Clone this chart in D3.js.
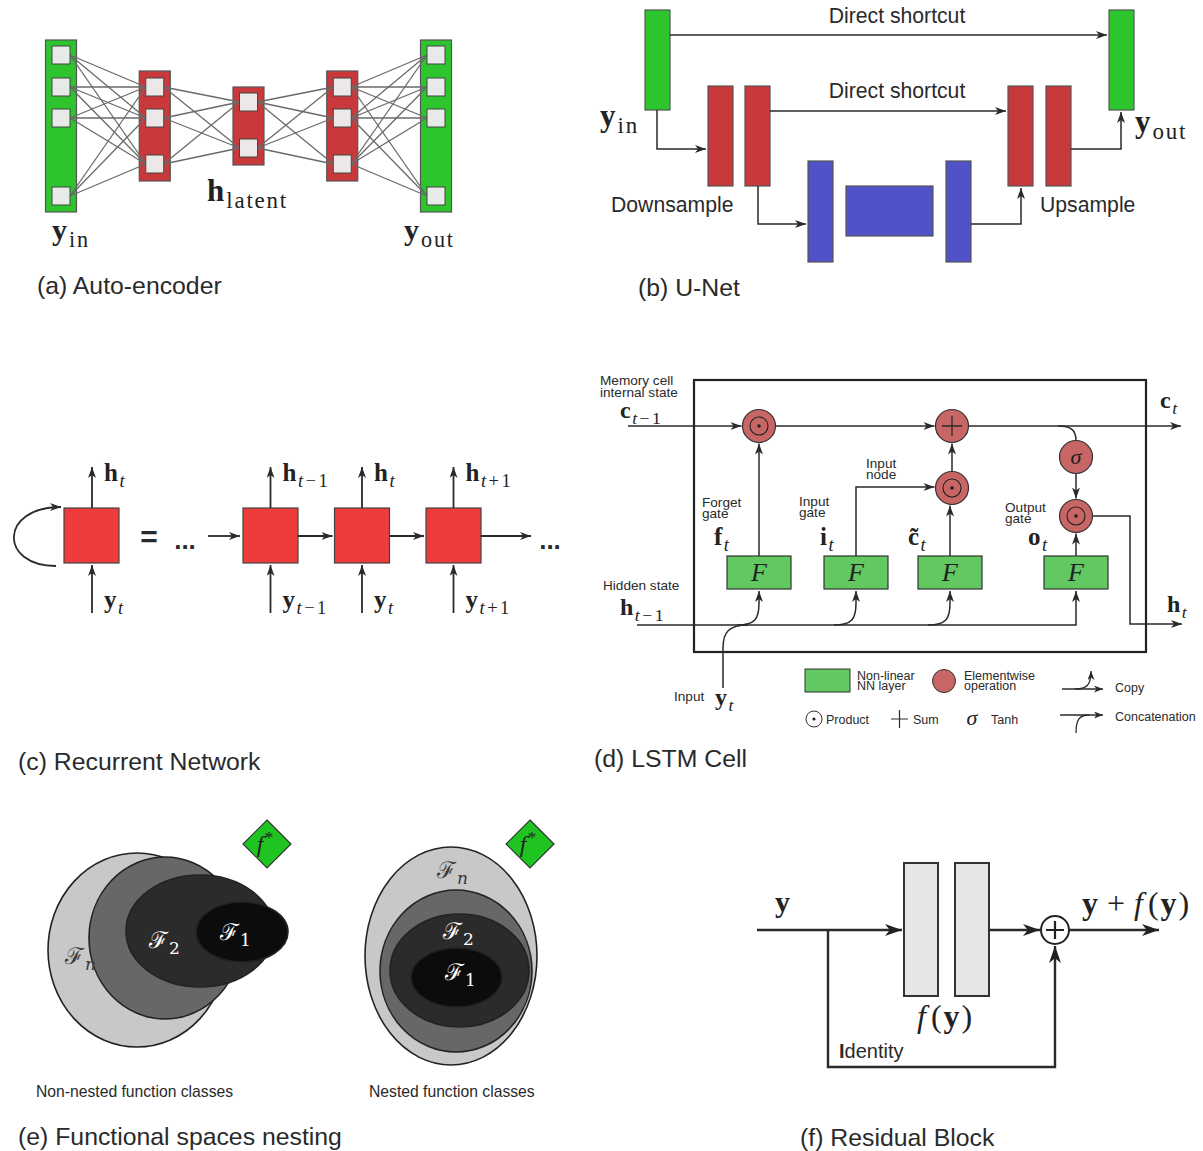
<!DOCTYPE html>
<html>
<head>
<meta charset="utf-8">
<script src="https://cdn.jsdelivr.net/npm/d3@7"></script>
<style>
  html, body { margin: 0; background: #ffffff; }
  svg { display: block; }
</style>
</head>
<body>
<svg id="fig" width="1203" height="1151"></svg>
<script>
// ---------------------------------------------------------------
// Content of the six panels
// ---------------------------------------------------------------
const panelCaptions = [
  "(a) Auto-encoder", "(b) U-Net", "(c) Recurrent Network",
  "(d) LSTM Cell", "(e) Functional spaces nesting", "(f) Residual Block"
];

// (a) auto-encoder: units per layer and the role of each layer
const aeLayerSizes = [4, 3, 2, 3, 4];
const aeLayerRoles = ["input", "encoder", "latent", "decoder", "output"];

// (b) U-Net: blocks from input to output
const unetBlocks = ["input", "down", "down", "bottleneck", "bottleneck", "bottleneck", "up", "up", "output"];
const unetShortcutLabel = "Direct shortcut";
const unetSideLabels = ["Downsample", "Upsample"];

// (c) recurrent network: time index of each unrolled step
const rnnSteps = [["t", "−", "1"], ["t"], ["t", "+", "1"]];

// (d) LSTM: gates, their descriptions and output symbols
const lstmGateNames   = [["Forget", "gate"], ["Input", "gate"], null, ["Output", "gate"]];
const lstmGateSymbols = ["f", "i", "c\u0303", "o"];
const lstmLegendTop   = [["Non-linear", "NN layer"], ["Elementwise", "operation"], ["Copy"]];
const lstmLegendBottom = ["Product", "Sum", "Tanh", "Concatenation"];

// (e) function classes, outermost first
const classLabels = ["n", "", "2", "1"];
const classShades = ["#c8c8c8", "#676767", "#2b2b2b", "#0c0c0c"];
const classSubtitles = ["Non-nested function classes", "Nested function classes"];

// (f) residual block
const residualLayers = ["layer1", "layer2"];

// ---------------------------------------------------------------
// Drawing helpers
// ---------------------------------------------------------------
const SANS  = "'Liberation Sans', Arial, Helvetica, sans-serif";
const SERIF = "'Liberation Serif', 'DejaVu Serif', 'Times New Roman', serif";
const INK = "#2a2a2a";
const CAPTION = 24.8;

const svg = d3.select("#fig");
const defs = svg.append("defs");

function arrowMarker(id, len, wid, color) {
  defs.append("marker")
    .attr("id", id)
    .attr("viewBox", `0 0 ${len} ${wid}`)
    .attr("refX", len).attr("refY", wid / 2)
    .attr("markerWidth", len).attr("markerHeight", wid)
    .attr("markerUnits", "userSpaceOnUse")
    .attr("orient", "auto")
    .append("path")
    .attr("d", `M0,0 L${len},${wid / 2} L0,${wid} L${len * 0.28},${wid / 2} Z`)
    .attr("fill", color);
}
arrowMarker("arr", 11, 8, "#2a2a2a");
arrowMarker("arrS", 9, 7, "#2a2a2a");
arrowMarker("arrB", 17, 12, "#222");

function label(g, x, y, str, size, opt = {}) {
  return g.append("text")
    .attr("x", x).attr("y", y)
    .attr("font-family", opt.family || SANS)
    .attr("font-size", size)
    .attr("fill", opt.fill || INK)
    .attr("text-anchor", opt.anchor || "start")
    .text(str);
}

// Math-style text: segments {t, b(bold), i(italic), sub, sup, dx}
function math(g, x, y, size, segs, opt = {}) {
  const t = g.append("text")
    .attr("x", x).attr("y", y)
    .attr("font-family", opt.family || SERIF)
    .attr("font-size", size)
    .attr("fill", opt.fill || "#222")
    .attr("text-anchor", opt.anchor || "start");
  let cur = 0;
  segs.forEach(s => {
    const small = s.sub || s.sup;
    const shift = s.sub ? size * 0.24 : s.sup ? -size * 0.38 : 0;
    const ts = t.append("tspan")
      .attr("font-size", small ? size * 0.74 : size)
      .attr("font-weight", s.b ? "bold" : "normal")
      .attr("font-style", s.i ? "italic" : "normal")
      .text(s.t);
    if (small && s.ls !== undefined) ts.attr("letter-spacing", s.ls);
    if (s.dx) ts.attr("dx", s.dx);
    if (shift !== cur) { ts.attr("dy", shift - cur); cur = shift; }
  });
  return t;
}
// subscript with the time index: t italic, operators spaced out
function timeSub(parts) {
  return parts.map((p, k) => ({
    t: p, sub: true, i: p === "t",
    dx: k === 0 ? 1.5 : (p === "−" || p === "+" || parts[k - 1] === "−" || parts[k - 1] === "+") ? 2.5 : 0
  }));
}
// upright word subscript (in, out, latent)
const wordSub = w => ({ t: w, sub: true, ls: 1.8, dx: 2 });

function line(g, d, opt = {}) {
  const p = g.append("path")
    .attr("d", d)
    .attr("fill", "none")
    .attr("stroke", opt.stroke || "#2a2a2a")
    .attr("stroke-width", opt.width || 1.5);
  if (opt.arrow) p.attr("marker-end", `url(#${opt.arrow})`);
  return p;
}

// ---------------------------------------------------------------
// (a) Auto-encoder
// ---------------------------------------------------------------
(function drawAutoEncoder() {
  const g = svg.append("g");
  const x = d3.scalePoint().domain(d3.range(aeLayerSizes.length)).range([61, 436]);
  const rows = { 4: [55, 87, 118, 196], 3: [87, 118, 164], 2: [102, 148] };
  const span = { 4: [40, 212], 3: [71, 181], 2: [87, 165] };
  const half = 15.5, node = 18;

  aeLayerSizes.forEach((n, i) => {
    const green = aeLayerRoles[i] === "input" || aeLayerRoles[i] === "output";
    g.append("rect")
      .attr("x", x(i) - half).attr("y", span[n][0])
      .attr("width", half * 2).attr("height", span[n][1] - span[n][0])
      .attr("fill", green ? "#2dc42d" : "#c9393b")
      .attr("stroke", "#555").attr("stroke-width", 1.2);
  });

  // full connections between neighbouring layers
  for (let i = 0; i < aeLayerSizes.length - 1; i++) {
    rows[aeLayerSizes[i]].forEach(y0 => {
      rows[aeLayerSizes[i + 1]].forEach(y1 => {
        g.append("line")
          .attr("x1", x(i) + node / 2).attr("y1", y0)
          .attr("x2", x(i + 1) - node / 2).attr("y2", y1)
          .attr("stroke", "#6a6a6a").attr("stroke-width", 1.3);
      });
    });
  }

  aeLayerSizes.forEach((n, i) => {
    const green = aeLayerRoles[i] === "input" || aeLayerRoles[i] === "output";
    rows[n].forEach(y => {
      g.append("rect")
        .attr("x", x(i) - node / 2).attr("y", y - node / 2)
        .attr("width", node).attr("height", node)
        .attr("fill", green ? "#e7ebe7" : "#ede7e7")
        .attr("stroke", "#444").attr("stroke-width", 1);
    });
  });

  math(g, 52, 240, 30, [{ t: "y", b: true }, wordSub("in")]);
  math(g, 207, 201, 31, [{ t: "h", b: true }, wordSub("latent")]);
  math(g, 404, 240, 30, [{ t: "y", b: true }, wordSub("out")]);
  label(g, 37, 294, panelCaptions[0], CAPTION);
})();

// ---------------------------------------------------------------
// (b) U-Net
// ---------------------------------------------------------------
(function drawUNet() {
  const g = svg.append("g");
  const colour = { input: "#2dc42d", output: "#2dc42d", down: "#c9393b", up: "#c9393b", bottleneck: "#5151c8" };
  const boxes = [
    [645, 10, 25, 100], [708, 86, 25, 100], [745, 86, 25, 100],
    [808, 161, 25, 101], [846, 186, 87, 50], [946, 161, 25, 101],
    [1008, 86, 25, 100], [1046, 86, 25, 100], [1109, 10, 25, 100]
  ];
  unetBlocks.forEach((kind, i) => {
    const [bx, by, bw, bh] = boxes[i];
    g.append("rect").attr("x", bx).attr("y", by).attr("width", bw).attr("height", bh)
      .attr("fill", colour[kind]).attr("stroke", "#555").attr("stroke-width", 1.2);
  });

  line(g, "M670,35 H1107", { arrow: "arr" });
  line(g, "M770,111 H1006", { arrow: "arr" });
  line(g, "M657,110 V149 H706", { arrow: "arr" });
  line(g, "M758,186 V224 H806", { arrow: "arr" });
  line(g, "M971,224 H1021 V188", { arrow: "arr" });
  line(g, "M1071,149 H1121 V112", { arrow: "arr" });

  label(g, 897, 23, unetShortcutLabel, 21.2, { anchor: "middle" });
  label(g, 897, 98, unetShortcutLabel, 21.2, { anchor: "middle" });
  label(g, 611, 212, unetSideLabels[0], 21.2);
  label(g, 1040, 212, unetSideLabels[1], 21.2);

  math(g, 600, 126, 31, [{ t: "y", b: true }, wordSub("in")]);
  math(g, 1135, 132, 31, [{ t: "y", b: true }, wordSub("out")]);
  label(g, 638, 296, panelCaptions[1], CAPTION);
})();

// ---------------------------------------------------------------
// (c) Recurrent network
// ---------------------------------------------------------------
(function drawRNN() {
  const g = svg.append("g");
  const cellFill = "#ee3b3b", side = 55, top = 508;
  const aw = { width: 1.8, arrow: "arr" };

  // folded cell with its self loop
  g.append("rect").attr("x", 64).attr("y", top).attr("width", side).attr("height", side)
    .attr("fill", cellFill).attr("stroke", "#444").attr("stroke-width", 1.2);
  line(g, "M56,566 C-1,566 -1,507 61,507", aw);
  line(g, "M92,508 V467", aw);
  line(g, "M92,613 V565", aw);
  math(g, 104, 481, 25, [{ t: "h", b: true }, ...timeSub(["t"])]);
  math(g, 104, 608, 25, [{ t: "y", b: true }, ...timeSub(["t"])]);

  g.append("text").attr("x", 149).attr("y", 547).attr("font-family", SANS)
    .attr("font-size", 30).attr("font-weight", "bold").attr("text-anchor", "middle").attr("fill", INK).text("=");
  label(g, 185, 549, "...", 26, { anchor: "middle" }).attr("font-weight", "bold");
  label(g, 550, 549, "...", 26, { anchor: "middle" }).attr("font-weight", "bold");

  // unrolled cells
  const x = d3.scalePoint().domain(d3.range(rnnSteps.length)).range([270.5, 453.5]);
  line(g, "M208,536 H240", aw);
  rnnSteps.forEach((s, i) => {
    const cx = x(i);
    g.append("rect").attr("x", cx - side / 2).attr("y", top).attr("width", side).attr("height", side)
      .attr("fill", cellFill).attr("stroke", "#444").attr("stroke-width", 1.2);
    line(g, `M${cx},${top} V467`, aw);
    line(g, `M${cx},613 V${top + side + 2}`, aw);
    const next = i < rnnSteps.length - 1 ? x(i + 1) - side / 2 - 2 : 531;
    line(g, `M${cx + side / 2},536 H${next}`, aw);
    math(g, cx + 12, 481, 25, [{ t: "h", b: true }, ...timeSub(s)]);
    math(g, cx + 12, 608, 25, [{ t: "y", b: true }, ...timeSub(s)]);
  });

  label(g, 18, 770, panelCaptions[2], CAPTION);
})();

// ---------------------------------------------------------------
// (d) LSTM cell
// ---------------------------------------------------------------
(function drawLSTM() {
  const g = svg.append("g");
  const opFill = "#c86565", layerFill = "#62c862";
  const r = 16.5;
  const cellY = 426, hidY = 625;
  const gateX = [759, 856, 950, 1076];
  const gateTop = 556, gateH = 33, gateW = 64;

  // cell outline
  g.append("rect").attr("x", 694).attr("y", 380).attr("width", 452).attr("height", 272)
    .attr("fill", "none").attr("stroke", "#222").attr("stroke-width", 2.2);

  // cell state path
  line(g, `M628,${cellY} H${759 - r - 1}`, { arrow: "arr" });
  line(g, `M${759 + r},${cellY} H${952 - r - 1}`, { arrow: "arr" });
  line(g, `M${952 + r},${cellY} H1181`, { arrow: "arr" });
  line(g, `M1058,${cellY} C1071,${cellY} 1076,430 1076,${457 - r}`);

  // gate wiring
  line(g, `M${gateX[0]},${gateTop} V${cellY + r + 1}`, { arrow: "arr" });
  line(g, `M${gateX[1]},${gateTop} V487 H${952 - r - 1}`, { arrow: "arr" });
  line(g, `M${gateX[2]},${gateTop} V${488 + r + 1}`, { arrow: "arr" });
  line(g, `M952,${488 - r} V${cellY + r + 1}`, { arrow: "arr" });
  line(g, `M1076,${457 + r} V${516 - r - 1}`, { arrow: "arr" });
  line(g, `M${gateX[3]},${gateTop} V${516 + r + 1}`, { arrow: "arr" });
  line(g, `M${1076 + r},516 H1130 V624 H1182`, { arrow: "arr" });

  // hidden state and concatenation with the input
  line(g, `M637,${hidY} H${gateX[3]} V${gateTop + gateH + 2}`, { arrow: "arr" });
  gateX.slice(0, 3).forEach(gx => {
    line(g, `M${gx - 22},${hidY} C${gx - 4},${hidY} ${gx},${hidY - 6} ${gx},${hidY - 22} V${gateTop + gateH + 2}`, { arrow: "arr" });
  });
  line(g, `M723,688 V648 C723,632 729,${hidY} 748,${hidY}`);

  // nonlinear layers
  gateX.forEach(gx => {
    g.append("rect").attr("x", gx - gateW / 2).attr("y", gateTop).attr("width", gateW).attr("height", gateH)
      .attr("fill", layerFill).attr("stroke", "#333").attr("stroke-width", 1.2);
    math(g, gx, gateTop + 25, 26, [{ t: "F", i: true }], { anchor: "middle" });
  });

  // elementwise operations
  const ops = [[759, cellY, "prod"], [952, cellY, "sum"], [1076, 457, "tanh"], [952, 488, "prod"], [1076, 516, "prod"]];
  ops.forEach(([cx, cy, kind]) => {
    g.append("circle").attr("cx", cx).attr("cy", cy).attr("r", r)
      .attr("fill", opFill).attr("stroke", "#333").attr("stroke-width", 1.2);
    if (kind === "prod") {
      g.append("circle").attr("cx", cx).attr("cy", cy).attr("r", 9).attr("fill", "none").attr("stroke", "#222").attr("stroke-width", 1.1);
      g.append("circle").attr("cx", cx).attr("cy", cy).attr("r", 1.8).attr("fill", "#222");
    } else if (kind === "sum") {
      line(g, `M${cx - 10},${cy} H${cx + 10} M${cx},${cy - 10} V${cy + 10}`, { width: 1.3 });
    } else {
      math(g, cx, cy + 7, 22, [{ t: "σ", i: true }], { anchor: "middle" });
    }
  });

  // labels
  const small = 13.6;
  label(g, 600, 385, "Memory cell", small);
  label(g, 600, 397, "internal state", small);
  math(g, 620, 418, 24, [{ t: "c", b: true }, ...timeSub(["t", "−", "1"])]);
  label(g, 603, 590, "Hidden state", small);
  math(g, 620, 615, 24, [{ t: "h", b: true }, ...timeSub(["t", "−", "1"])]);
  math(g, 1160, 408, 24, [{ t: "c", b: true }, ...timeSub(["t"])]);
  math(g, 1167, 612, 24, [{ t: "h", b: true }, ...timeSub(["t"])]);
  label(g, 674, 701, "Input", small);
  math(g, 715, 705, 24, [{ t: "y", b: true }, ...timeSub(["t"])]);

  const nameAt = [[702, 507], [799, 506], null, [1005, 512]];
  lstmGateNames.forEach((nm, i) => {
    if (!nm) return;
    label(g, nameAt[i][0], nameAt[i][1], nm[0], small);
    label(g, nameAt[i][0], nameAt[i][1] + 11, nm[1], small);
  });
  label(g, 866, 468, "Input", small);
  label(g, 866, 479, "node", small);
  const symAt = [[714, 545], [820, 545], [908, 545], [1028, 545]];
  lstmGateSymbols.forEach((s, i) => {
    math(g, symAt[i][0], symAt[i][1], 25, [{ t: s, b: true }, ...timeSub(["t"])]);
  });

  // legend
  g.append("rect").attr("x", 805).attr("y", 669).attr("width", 45).attr("height", 23)
    .attr("fill", layerFill).attr("stroke", "#333").attr("stroke-width", 1);
  label(g, 857, 680, lstmLegendTop[0][0], 12.5);
  label(g, 857, 690, lstmLegendTop[0][1], 12.5);
  g.append("ellipse").attr("cx", 944).attr("cy", 681).attr("rx", 11.5).attr("ry", 11.5)
    .attr("fill", opFill).attr("stroke", "#333").attr("stroke-width", 1);
  label(g, 964, 680, lstmLegendTop[1][0], 12.5);
  label(g, 964, 690, lstmLegendTop[1][1], 12.5);
  line(g, "M1062,689 H1103", { arrow: "arrS", width: 1.3 });
  line(g, "M1075,689 C1087,689 1091,685 1091,671", { arrow: "arrS", width: 1.3 });
  label(g, 1115, 692, lstmLegendTop[2][0], 12.5);

  g.append("circle").attr("cx", 814).attr("cy", 719).attr("r", 8).attr("fill", "none").attr("stroke", "#333").attr("stroke-width", 1);
  g.append("circle").attr("cx", 814).attr("cy", 719).attr("r", 1.6).attr("fill", "#222");
  label(g, 826, 724, lstmLegendBottom[0], 12.5);
  line(g, "M891,719 H908 M899.5,710 V728", { width: 1.2 });
  label(g, 913, 724, lstmLegendBottom[1], 12.5);
  math(g, 972, 725, 22, [{ t: "σ", i: true }], { anchor: "middle" });
  label(g, 991, 724, lstmLegendBottom[2], 12.5);
  line(g, "M1060,715 H1103", { arrow: "arrS", width: 1.3 });
  line(g, "M1076,733 C1076,720 1079,715 1089,715", { width: 1.3 });
  label(g, 1115, 721, lstmLegendBottom[3], 12.5);

  label(g, 594, 767, panelCaptions[3], CAPTION);
})();

// ---------------------------------------------------------------
// (e) Functional spaces nesting
// ---------------------------------------------------------------
(function drawNesting() {
  const g = svg.append("g");
  const layouts = [
    { ell: [[137, 950, 89, 97], [165, 938, 76, 81], [200, 931, 74, 56], [242, 932, 46, 30]],
      lab: [[65, 964], null, [149, 948], [220, 940]], star: [267, 844], sub: [36, 1097] },
    { ell: [[451, 956, 86, 109], [456, 971, 76, 81], [459.5, 970.5, 69.5, 56.5], [456.5, 977.5, 45.5, 29.5]],
      lab: [[437, 878], null, [443, 939], [445, 980]], star: [530, 844], sub: [369, 1097] }
  ];
  layouts.forEach((L, k) => {
    classLabels.forEach((c, i) => {
      const [cx, cy, rx, ry] = L.ell[i];
      g.append("ellipse").attr("cx", cx).attr("cy", cy).attr("rx", rx).attr("ry", ry)
        .attr("fill", classShades[i]).attr("stroke", "#222").attr("stroke-width", 1.6);
    });
    classLabels.forEach((c, i) => {
      if (!c) return;
      const [lx, ly] = L.lab[i];
      math(g, lx, ly, 23, [{ t: "ℱ" }, { t: c, i: c === "n", sub: true, dx: 1 }],
        { fill: i === 0 ? "#3a3a3a" : "#ffffff", family: "'DejaVu Serif', 'Liberation Serif', serif" });
    });
    const [sx, sy] = L.star, d = 24;
    g.append("path").attr("d", `M${sx},${sy - d} L${sx + d},${sy} L${sx},${sy + d} L${sx - d},${sy} Z`)
      .attr("fill", "#20c420").attr("stroke", "#333").attr("stroke-width", 1.2);
    math(g, sx - 2, sy + 8, 24, [{ t: "f", i: true }, { t: "*", sup: true, dx: 1 }], { anchor: "middle" });
    label(g, L.sub[0], L.sub[1], classSubtitles[k], 15.7);
  });
  label(g, 18, 1145, panelCaptions[4], CAPTION);
})();

// ---------------------------------------------------------------
// (f) Residual block
// ---------------------------------------------------------------
(function drawResidual() {
  const g = svg.append("g");
  const w = 2.4;
  const layerX = d3.scalePoint().domain(residualLayers).range([904, 955]);
  residualLayers.forEach(l => {
    g.append("rect").attr("x", layerX(l)).attr("y", 863).attr("width", 34).attr("height", 133)
      .attr("fill", "#e6e6e6").attr("stroke", "#333").attr("stroke-width", 2);
  });
  line(g, "M757,930 H902", { arrow: "arrB", width: w });
  line(g, "M989,930 H1040", { arrow: "arrB", width: w });
  line(g, "M1070,930 H1159", { arrow: "arrB", width: w });
  line(g, "M828,930 V1067 H1055 V946", { arrow: "arrB", width: w });
  g.append("circle").attr("cx", 1055).attr("cy", 930).attr("r", 14)
    .attr("fill", "#fff").attr("stroke", "#222").attr("stroke-width", 2);
  line(g, "M1046,930 H1064 M1055,921 V939", { width: 2.2, stroke: "#222" });

  math(g, 775, 912, 30, [{ t: "y", b: true }]);
  math(g, 1082, 914, 32, [
    { t: "y", b: true }, { t: "+", dx: 9 }, { t: "f", i: true, dx: 9 },
    { t: "(", dx: 5 }, { t: "y", b: true, dx: 2 }, { t: ")", dx: 2 }
  ]);
  math(g, 917, 1027, 32, [
    { t: "f", i: true }, { t: "(", dx: 5 }, { t: "y", b: true, dx: 2 }, { t: ")", dx: 2 }
  ]);
  const id = g.append("text").attr("x", 839).attr("y", 1058).attr("font-family", SANS).attr("font-size", 20).attr("fill", INK);
  id.append("tspan").attr("font-weight", "bold").text("I");
  id.append("tspan").text("dentity");

  label(g, 800, 1146, panelCaptions[5], CAPTION);
})();
</script>
</body>
</html>
